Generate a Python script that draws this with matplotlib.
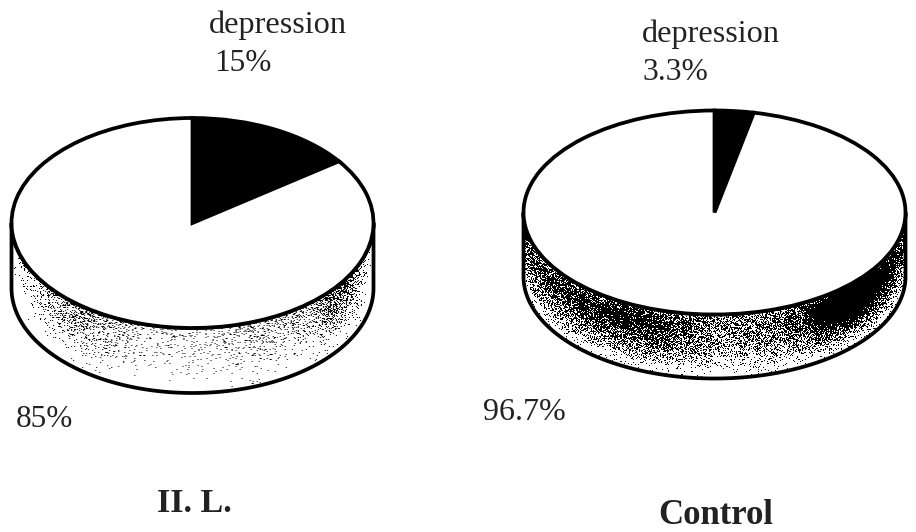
import numpy as np
import matplotlib
matplotlib.use("Agg")
import matplotlib.pyplot as plt
from matplotlib.patches import Polygon

W, H = 916, 532
plt.rcParams['font.family'] = ['Liberation Serif', 'DejaVu Serif']

group_names = ["II. L.", "Control"]
depression_pct = [15, 3.3]
other_pct = [85, 96.7]
depression_labels = ["15%", "3.3%"]
other_labels = ["85%", "96.7%"]
slice_name = "depression"

# pixel geometry of each disc: centre x, centre y, x radius, y radius, side depth
discs = [(192.5, 223, 181, 105, 65), (714.5, 212.5, 191, 102, 64)]


def left_shade(u, t):
    bump = 0.34 * np.exp(-((u + 0.62) / 0.22) ** 2) + 0.62 * np.exp(-((u - 0.80) / 0.13) ** 2)
    edge = np.clip((1 - np.abs(u)) * 14, 0.25, 1)
    return (0.09 + 0.14 * np.exp(-((u - 0.45) / 0.3) ** 2) + bump) * np.clip(1 - t * 1.25, 0.04, 1) * edge


def right_shade(u, t):
    bump = 0.62 + 0.3 * np.exp(-((u + 0.5) / 0.4) ** 2) + 0.7 * np.exp(-((u - 0.72) / 0.24) ** 2)
    bump = bump - 0.18 * np.exp(-((u - 0.02) / 0.2) ** 2)
    fade = np.clip(1.1 - t ** 2 * 1.25, 0.08, 1)
    return bump * fade * np.clip(0.72 + t * 1.4, 0, 1)


shades = [left_shade, right_shade]

fig = plt.figure(figsize=(W / 100, H / 100), dpi=100, facecolor='white')

for i, (cx, cy, rx, ry, depth) in enumerate(discs):
    pad = 8
    x0, x1 = cx - rx - pad, cx + rx + pad
    y0, y1 = cy - ry - pad, cy + ry + depth + pad
    ax = fig.add_axes([x0 / W, 1 - y1 / H, (x1 - x0) / W, (y1 - y0) / H])
    ax.pie([depression_pct[i], other_pct[i]], colors=['black', 'white'], startangle=90,
           counterclock=False, radius=1,
           wedgeprops=dict(edgecolor='black', linewidth=2.7, zorder=3, clip_on=False))
    ax.set_aspect('auto')
    ax.axis('off')

    d = depth / ry
    # side texture, one cell per pixel
    nx, ny = int(x1 - x0), int(y1 - y0)
    xs = np.linspace((x0 - cx) / rx, (x1 - cx) / rx, nx)
    ys = np.linspace((cy - y0) / ry, (cy - y1) / ry, ny)
    U, V = np.meshgrid(xs, ys)
    arc = -np.sqrt(np.clip(1 - U ** 2, 0, 1))
    T = np.clip((arc - V) / d, 0, 1)
    IX, IY = np.meshgrid(np.arange(nx), np.arange(ny))
    grain = np.sin(IX * 12.9898 + IY * 78.233 + i) * 43758.5453
    grain = grain - np.floor(grain)
    tex = (shades[i](U, T) > grain).astype(float)
    img = ax.imshow(1 - tex, cmap='gray', vmin=0, vmax=1, aspect='auto', zorder=1,
                    extent=[xs[0], xs[-1], ys[-1], ys[0]], interpolation='bilinear')
    ax.set_xlim((x0 - cx) / rx, (x1 - cx) / rx)
    ax.set_ylim((cy - y1) / ry, (cy - y0) / ry)

    th = np.linspace(np.pi, 2 * np.pi, 200)
    outline = np.column_stack([np.r_[np.cos(th), np.cos(th[::-1])],
                               np.r_[np.sin(th) - d, np.sin(th[::-1])]])
    clip = Polygon(outline, closed=True, transform=ax.transData)
    img.set_clip_path(clip)
    ax.add_patch(Polygon(outline, closed=True, facecolor='none', edgecolor='black',
                         linewidth=2.7, zorder=2, clip_on=False))


def label(px, py, s, size=23.2, **kw):
    fig.text(px / W, 1 - py / H, s, fontsize=size, va='baseline', color='#222222', **kw)


label(209, 33, slice_name)
label(214, 71, depression_labels[0], size=22.5)
label(642, 42, slice_name)
label(642, 80, depression_labels[1], size=22.8)
label(16, 427, other_labels[0], size=22.5)
label(483, 420, other_labels[1], size=23)
label(157, 512, group_names[0], size=24.5, fontweight='bold')
label(658, 524, group_names[1], size=25, fontweight='bold')

fig.savefig("out.png", dpi=100, facecolor='white')
